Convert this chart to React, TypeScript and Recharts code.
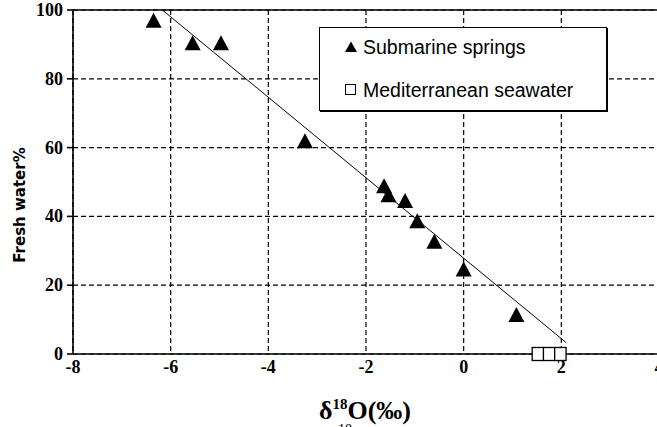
import { ScatterChart, Scatter, XAxis, YAxis, CartesianGrid, ReferenceLine, Legend } from 'recharts';

// δ18O (‰) of the submarine springs and their fresh water share
const springDelta = [-6.35, -5.55, -4.97, -3.25, -1.63, -1.54, -1.2, -0.95, -0.6, 0.0, 1.08];
const springFresh = [97, 90.5, 90.5, 62, 48.9, 46.3, 44.6, 38.7, 32.8, 24.7, 11.5];

// Mediterranean seawater samples, all at 0 % fresh water
const seaDelta = [1.52, 1.75, 1.98];
const seaFresh = [0, 0, 0];

// mixing line end points
const lineDelta = [-6.17, 2.1];
const lineFresh = [100, 3.3];

const xTicks = [-8, -6, -4, -2, 0, 2, 4];
const yTicks = [0, 20, 40, 60, 80, 100];
const seriesNames = ['Submarine springs', 'Mediterranean seawater'];

const springs = springDelta.map((x, i) => ({ x, y: springFresh[i] }));
const seawater = seaDelta.map((x, i) => ({ x, y: seaFresh[i] }));
const mixLine = lineDelta.map((x, i) => ({ x, y: lineFresh[i] }));

const serif = '"Liberation Serif", "Times New Roman", serif';

function Triangle(props: any) {
  const { cx, cy } = props;
  return <path d={`M${cx},${cy - 7.5} L${cx + 8},${cy + 7.5} L${cx - 8},${cy + 7.5} Z`} fill="#000" />;
}

function Square(props: any) {
  const { cx, cy } = props;
  return <rect x={cx - 5.7} y={cy - 6.5} width={11.4} height={13} fill="#fff" stroke="#000" strokeWidth={1.3} />;
}

function XTick(props: any) {
  const { x, y, payload } = props;
  return (
    <text x={x} y={y} dy={13} textAnchor="middle" fontFamily={serif} fontWeight={700} fontSize={18} fill="#000">
      {payload.value}
    </text>
  );
}

function YTick(props: any) {
  const { x, y, payload } = props;
  return (
    <text x={x} y={y} dy={6} textAnchor="end" fontFamily={serif} fontWeight={700} fontSize={18} fill="#000">
      {payload.value}
    </text>
  );
}

function XLabel(props: any) {
  const vb = props.viewBox || { x: 73, y: 354, width: 586 };
  const cx = vb.x + vb.width / 2 - 1;
  return (
    <g>
      <text x={cx} y={vb.y + 65} textAnchor="middle" fontFamily={serif} fontWeight={700} fontSize={26} fill="#000">
        δ<tspan fontSize={15} dy={-10}>18</tspan><tspan dy={10}>O(‰)</tspan>
      </text>
      <text x={345} y={vb.y + 80} textAnchor="middle" fontFamily={serif} fontSize={14} fill="#000">18</text>
    </g>
  );
}

function YLabel() {
  return (
    <text x={25} y={205} transform="rotate(-90 25 205)" textAnchor="middle" fontFamily='"DejaVu Sans", sans-serif' fontWeight={700} fontSize={15} fill="#000">
      Fresh water%
    </text>
  );
}

function LegendBox(props: any) {
  const items = (props.payload || [])
    .filter((p: any) => seriesNames.includes(p.value))
    .sort((a: any, b: any) => seriesNames.indexOf(a.value) - seriesNames.indexOf(b.value));
  return (
    <div style={{ position: 'relative', width: 286, height: 82, background: '#fff', border: '1px solid #000', boxShadow: '1px 1px 0 #000', fontFamily: '"Liberation Sans", Arial, sans-serif', fontSize: 19.5, color: '#000' }}>
      {items.map((p: any, i: number) => (
        <div key={p.value} style={{ position: 'absolute', left: 24, top: i === 0 ? 7 : 50, height: 24, display: 'flex', alignItems: 'center', whiteSpace: 'nowrap' }}>
          <svg width={14} height={14} style={{ marginRight: 5 }}>
            {p.value === seriesNames[0] ? <path d="M7,1.5 L13,12 L1,12 Z" fill="#000" /> : <rect x={1.5} y={1.5} width={10} height={10} fill="#fff" stroke="#000" />}
          </svg>
          <span>{p.value}</span>
        </div>
      ))}
    </div>
  );
}

export default function App() {
  return (
    <div style={{ position: 'absolute', left: 0, top: 0, width: 657, height: 427, overflow: 'hidden', background: '#fff' }}>
      <ScatterChart width={664} height={427} margin={{ top: 10, right: 5, bottom: 43, left: 0 }}>
        <CartesianGrid stroke="#000" strokeDasharray="5 3" strokeWidth={1.2} />
        <XAxis
          type="number"
          dataKey="x"
          domain={[-8, 4]}
          ticks={xTicks}
          interval={0}
          height={30}
          tickLine={false}
          tickSize={6}
          tickMargin={0}
          tick={<XTick />}
          stroke="#000"
          strokeWidth={1.6}
          label={<XLabel />}
        />
        <YAxis
          type="number"
          dataKey="y"
          domain={[0, 100]}
          ticks={yTicks}
          interval={0}
          width={73}
          tickSize={6}
          tickMargin={4}
          tick={<YTick />}
          stroke="#000"
          strokeWidth={1.6}
          label={<YLabel />}
        />
        <ReferenceLine y={100} stroke="#000" strokeWidth={1.6} />
        <Scatter data={mixLine} line={{ stroke: '#000', strokeWidth: 1 }} shape={() => null} legendType="none" isAnimationActive={false} />
        <Scatter name={seriesNames[0]} data={springs} shape={<Triangle />} fill="#000" isAnimationActive={false} />
        <Scatter name={seriesNames[1]} data={seawater} shape={<Square />} fill="#fff" isAnimationActive={false} />
        <Legend
          layout="vertical"
          align="center"
          verticalAlign="middle"
          content={<LegendBox />}
          wrapperStyle={{ left: 319, top: 27, width: 288, height: 84 }}
        />
      </ScatterChart>
    </div>
  );
}
